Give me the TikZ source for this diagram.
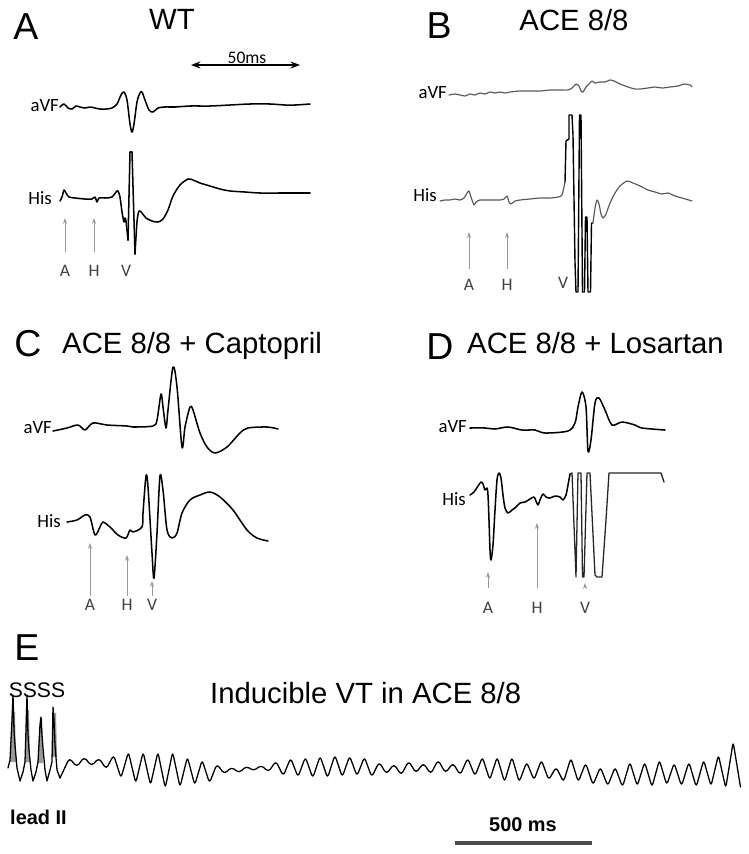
\documentclass[tikz,border=0pt]{standalone}
\usepackage{fontspec}
\setmainfont{Liberation Sans}
\newfontfamily\calib{Carlito}
\usetikzlibrary{arrows.meta}

\newcommand{\lettersize}{\fontsize{32}{36}\selectfont}
\newcommand{\headsize}{\fontsize{25}{28}\selectfont}
\newcommand{\leadsize}{\calib\fontsize{16}{18}\selectfont}
\newcommand{\cuesize}{\calib\fontsize{15}{17}\selectfont}

\begin{document}
\begin{tikzpicture}[x=0.03cm,y=-0.03cm,
  panelletter/.style={font=\lettersize,inner sep=0pt},
  headtext/.style={font=\headsize,inner sep=0pt},
  leadname/.style={font=\leadsize,inner sep=0pt,anchor=east},
  cuename/.style={font=\cuesize,text=black!75,inner sep=0pt},
  cuearrow/.style={draw=black!40,line width=0.8pt,-{Stealth[length=5pt,width=3.5pt]}},
  trace/.style={line width=1.3pt,line join=round,line cap=round},
  faint/.style={trace,draw=black!65,line width=1pt},
  clipped/.style={trace,draw=black!85,line width=1.1pt},
  spikefill/.style={fill=black!40}]
\useasboundingbox (0,0) rectangle (749,854);

% A: WT
\node[panelletter] (letA) at (26,27) {A};
\node[headtext] (headA) at (172,19) {WT};
\coordinate (msL) at (191,65);
\coordinate (msR) at (300,65);
\draw[line width=1.5pt,{Stealth[length=8pt,width=6pt]}-{Stealth[length=8pt,width=6pt]}] (msL) -- (msR);
\node[cuename,text=black] (msA) at (247,58) {50ms};
\node[leadname] (avfA) at (59,106) {aVF};
\node[leadname] (hisA) at (52,198) {His};
\draw[trace] plot[smooth,tension=0.5] coordinates {(60,107) (64,104) (68,108) (72,109) (76,106) (80,107) (85,108) (90,107) (95,108) (100,109) (106,109) (112,108) (117,104) (121,95) (124,92) (127,100) (130,124) (132,132) (134,124) (137,102) (140,93) (142,92) (145,100) (149,110) (153,112) (158,108) (165,107) (175,107) (190,106) (210,106) (230,105) (250,104) (270,104) (285,105) (295,105) (310,104)};
\draw[trace] plot[smooth,tension=0.5] coordinates {(60,201) (62,197) (64,190) (66,193) (69,197) (75,198) (85,199) (92,199) (95,197) (97,202) (99,198) (105,198) (112,197) (116,192) (118,191) (120,197) (122,212) (124,222) (125,218) (126,221) (128,240)};
\draw[trace] (128,240) -- (130,152) -- (132,152) -- (135,254);
\draw[trace] plot[smooth,tension=0.5] coordinates {(135,254) (137,222) (139,211) (142,213) (146,218) (152,221) (158,222) (163,219) (168,210) (173,196) (180,185) (188,179) (193,180) (200,183) (210,186) (220,189) (230,191) (245,192) (260,193) (280,193) (300,193) (310,193)};
\node[cuename] (cA1) at (65,271) {A};
\node[cuename] (cH1) at (94,271) {H};
\node[cuename] (cV1) at (126,271) {V};
\coordinate (tA1) at (65,218);
\coordinate (tH1) at (94,218);
\draw[cuearrow,shorten <=11pt] (cA1.north) -- (tA1);
\draw[cuearrow,shorten <=11pt] (cH1.north) -- (tH1);

% B: ACE 8/8
\node[panelletter] (letB) at (439,26) {B};
\node[headtext] (headB) at (574,20) {ACE 8/8};
\node[leadname] (avfB) at (447,93) {aVF};
\node[leadname] (hisB) at (437,195) {His};
\draw[faint] plot[smooth,tension=0.4] coordinates {(449,95) (455,94) (460,95) (465,96) (470,94) (475,95) (480,93) (485,94) (490,92) (495,93) (500,92) (505,93) (510,92) (520,91) (530,91) (540,91) (550,90) (560,90) (568,90) (572,88) (576,84) (579,86) (581,91) (583,92) (586,87) (589,84) (592,81) (595,83) (600,82) (605,82) (610,80) (614,81) (620,84) (628,87) (635,89) (640,89) (648,88) (655,87) (662,88) (670,87) (678,86) (684,84) (690,85) (692,87)};
\draw[faint] plot[smooth,tension=0.4] coordinates {(440,201) (445,200) (450,200) (455,199) (460,200) (464,198) (467,193) (469,191) (471,197) (474,205) (476,202) (480,200) (490,200) (500,200) (504,199) (507,196) (509,202) (511,204) (515,201) (520,200) (530,199) (540,198) (550,198) (558,197) (562,195) (565,182)};
\draw[trace,line width=1.2pt] (565,182) -- (566,141) -- (569,139) -- (569,115) -- (572,115) -- (573,135) -- (575,262) -- (576,292) -- (578,292) -- (579.5,115) -- (581,115) -- (582.5,292) -- (584.5,292) -- (585.5,217) -- (587,217) -- (588,292) -- (590.5,292) -- (591.5,223) -- (593,223);
\draw[faint] plot[smooth,tension=0.4] coordinates {(593,223) (595,208) (597,200) (599,204) (601,214) (603,218) (606,214) (610,203) (615,193) (620,186) (627,181) (633,183) (640,186) (648,190) (655,192) (662,194) (668,193) (675,196) (682,198) (692,201)};
\node[cuename] (cA2) at (469,285) {A};
\node[cuename] (cH2) at (507,285) {H};
\node[cuename] (cV2) at (563,283) {V};
\coordinate (tA2) at (469,232);
\coordinate (tH2) at (507,232);
\draw[cuearrow,shorten <=9pt] (cA2.north) -- (tA2);
\draw[cuearrow,shorten <=9pt] (cH2.north) -- (tH2);

% C: ACE 8/8 + Captopril
\node[panelletter] (letC) at (28,344) {C};
\node[headtext,anchor=base west] (headC) at (62,353) {ACE 8/8 + Captopril};
\node[leadname] (avfC) at (52,428) {aVF};
\node[leadname] (hisC) at (61,521) {His};
\draw[trace] plot[smooth,tension=0.5] coordinates {(53,431) (67,428) (78,425) (85,430) (93,423) (107,425) (127,426) (133,427) (153,426) (157,420) (161,394) (163,407) (166,428) (168,410) (173,367) (177,387) (182,447) (185,427) (190,407) (193,410) (200,433) (207,447) (215,453) (227,447) (240,433) (248,428) (267,427) (278,429)};
\draw[trace] plot[smooth,tension=0.5] coordinates {(67,522) (77,520) (85,515) (90,517) (95,535) (100,527) (103,522) (110,527) (118,535) (126,538) (130,530) (133,532) (142,527) (143,513) (146,476) (148,487) (152,553) (154,578) (157,533) (160,476) (163,490) (167,530) (172,538) (177,533) (182,513) (190,500) (200,495) (210,492) (220,497) (233,510) (247,530) (257,538) (268,541)};
\node[cuename] (cA3) at (90,605) {A};
\node[cuename] (cH3) at (127,605) {H};
\node[cuename] (cV3) at (152,605) {V};
\coordinate (tA3) at (90,543);
\coordinate (tH3) at (127,555);
\coordinate (tV3) at (152,581);
\draw[cuearrow,shorten <=3pt] (cA3.north) -- (tA3);
\draw[cuearrow,shorten <=3pt] (cH3.north) -- (tH3);
\draw[cuearrow,shorten <=3pt] (cV3.north) -- (tV3);

% D: ACE 8/8 + Losartan
\node[panelletter] (letD) at (440,347) {D};
\node[headtext,anchor=base west] (headD) at (467,353) {ACE 8/8 + Losartan};
\node[leadname] (avfD) at (467,427) {aVF};
\node[leadname] (hisD) at (466,499) {His};
\draw[trace] plot[smooth,tension=0.5] coordinates {(470,428) (485,428) (495,429) (508,427) (522,430) (535,430) (545,433) (568,431) (575,423) (578,407) (582,392) (586,407) (588,451) (591,440) (595,403) (599,398) (605,410) (612,425) (622,422) (635,425) (642,428) (665,430)};
\draw[trace] plot[smooth,tension=0.5] coordinates {(470,495) (474,492) (478,486) (481,482) (483,484) (485,490) (487,488) (488,495) (489,520) (490,550) (491,560) (493,545) (495,510) (497,480) (499,473) (501,478) (503,495) (505,508) (508,513) (512,510) (516,507) (520,503) (525,502) (530,499) (534,497) (536,501) (538,505) (540,500) (543,494) (546,497) (550,498) (555,496) (560,497) (563,500) (566,495) (568,485) (570,474)};
\draw[clipped] (570,474) -- (572,473) -- (576,577) -- (578,473) -- (581,473) -- (582.5,577) -- (584,577) -- (587,473) -- (590,473) -- (595,575) -- (597,577) -- (602,577) -- (606,520) -- (609,473) -- (661,473) -- (664,482);
\node[cuename] (cA4) at (488,608) {A};
\node[cuename] (cH4) at (537,608) {H};
\node[cuename] (cV4) at (585,608) {V};
\coordinate (tA4) at (488,572);
\coordinate (tH4) at (537,523);
\coordinate (tV4) at (585,583);
\draw[cuearrow,shorten <=12pt] (cA4.north) -- (tA4);
\draw[cuearrow,shorten <=12pt] (cH4.north) -- (tH4);
\draw[cuearrow,shorten <=12pt] (cV4.north) -- (tV4);

% E: inducible VT
\node[panelletter] (letE) at (27,648) {E};
\node[font=\fontsize{18}{20}\selectfont,inner sep=0pt] (stims) at (37,690) {SSSS};
\node[headtext,anchor=base west] (headE) at (210,703) {Inducible VT in ACE 8/8};
\fill[spikefill] (10,762) -- (12,712) -- (15,712) -- (16,762) -- cycle;
\fill[spikefill] (25,762) -- (26,710) -- (29,710) -- (30,762) -- cycle;
\fill[spikefill] (38,763) -- (40,718) -- (42,718) -- (43,763) -- cycle;
\fill[spikefill] (52,757) -- (53,713) -- (56,713) -- (57,757) -- cycle;
\draw[trace,line width=1.1pt] (8,768) -- (10,760) -- (12,720) -- (13,695) -- (14,730) -- (15,745) -- (17,768) -- (20,781) -- (23,772) -- (25,762) -- (26,730) -- (27,695) -- (28,735) -- (29,750) -- (31,770) -- (33,781) -- (36,772) -- (38,762) -- (40,725) -- (41,717) -- (42,735) -- (43,748) -- (45,770) -- (47,781) -- (50,770) -- (52,762) -- (53,707) -- (54,720) -- (55,745) -- (57,770) -- (60,778);
\draw[trace,line width=1.1pt,rounded corners=3pt] (60,778)
  \foreach \pk/\tr [count=\i from 0] in {758/767,757/766,758/769,755/778,752/783,752/785,752/788,752/787,757/785,760/783,764/774,767/773,766/771,765/772,761/776,758/777,757/778,756/778,755/777,756/776,757/777,762/774,764/775,761/773,763/774,760/773,763/775,758/776,757/780,757/782,757/782,762/780,760/780,767/782,758/782,763/785,767/786,767/787,762/786,762/787,760/785,763/786,762/787,760/786,755/788,742/787}
  { -- ({62+14.75*\i+7.4},\pk) -- ({62+14.75*(\i+1)},\tr) };
\node[font=\bfseries\fontsize{17}{19}\selectfont,inner sep=0pt,anchor=base west] (leadE) at (10,824) {lead II};
\node[font=\bfseries\fontsize{17}{19}\selectfont,inner sep=0pt] (msE) at (523,825) {500 ms};
\coordinate (barL) at (455,843);
\coordinate (barR) at (592,843);
\draw[line width=2.6pt,draw=black!70] (barL) -- (barR);
\end{tikzpicture}
\end{document}
